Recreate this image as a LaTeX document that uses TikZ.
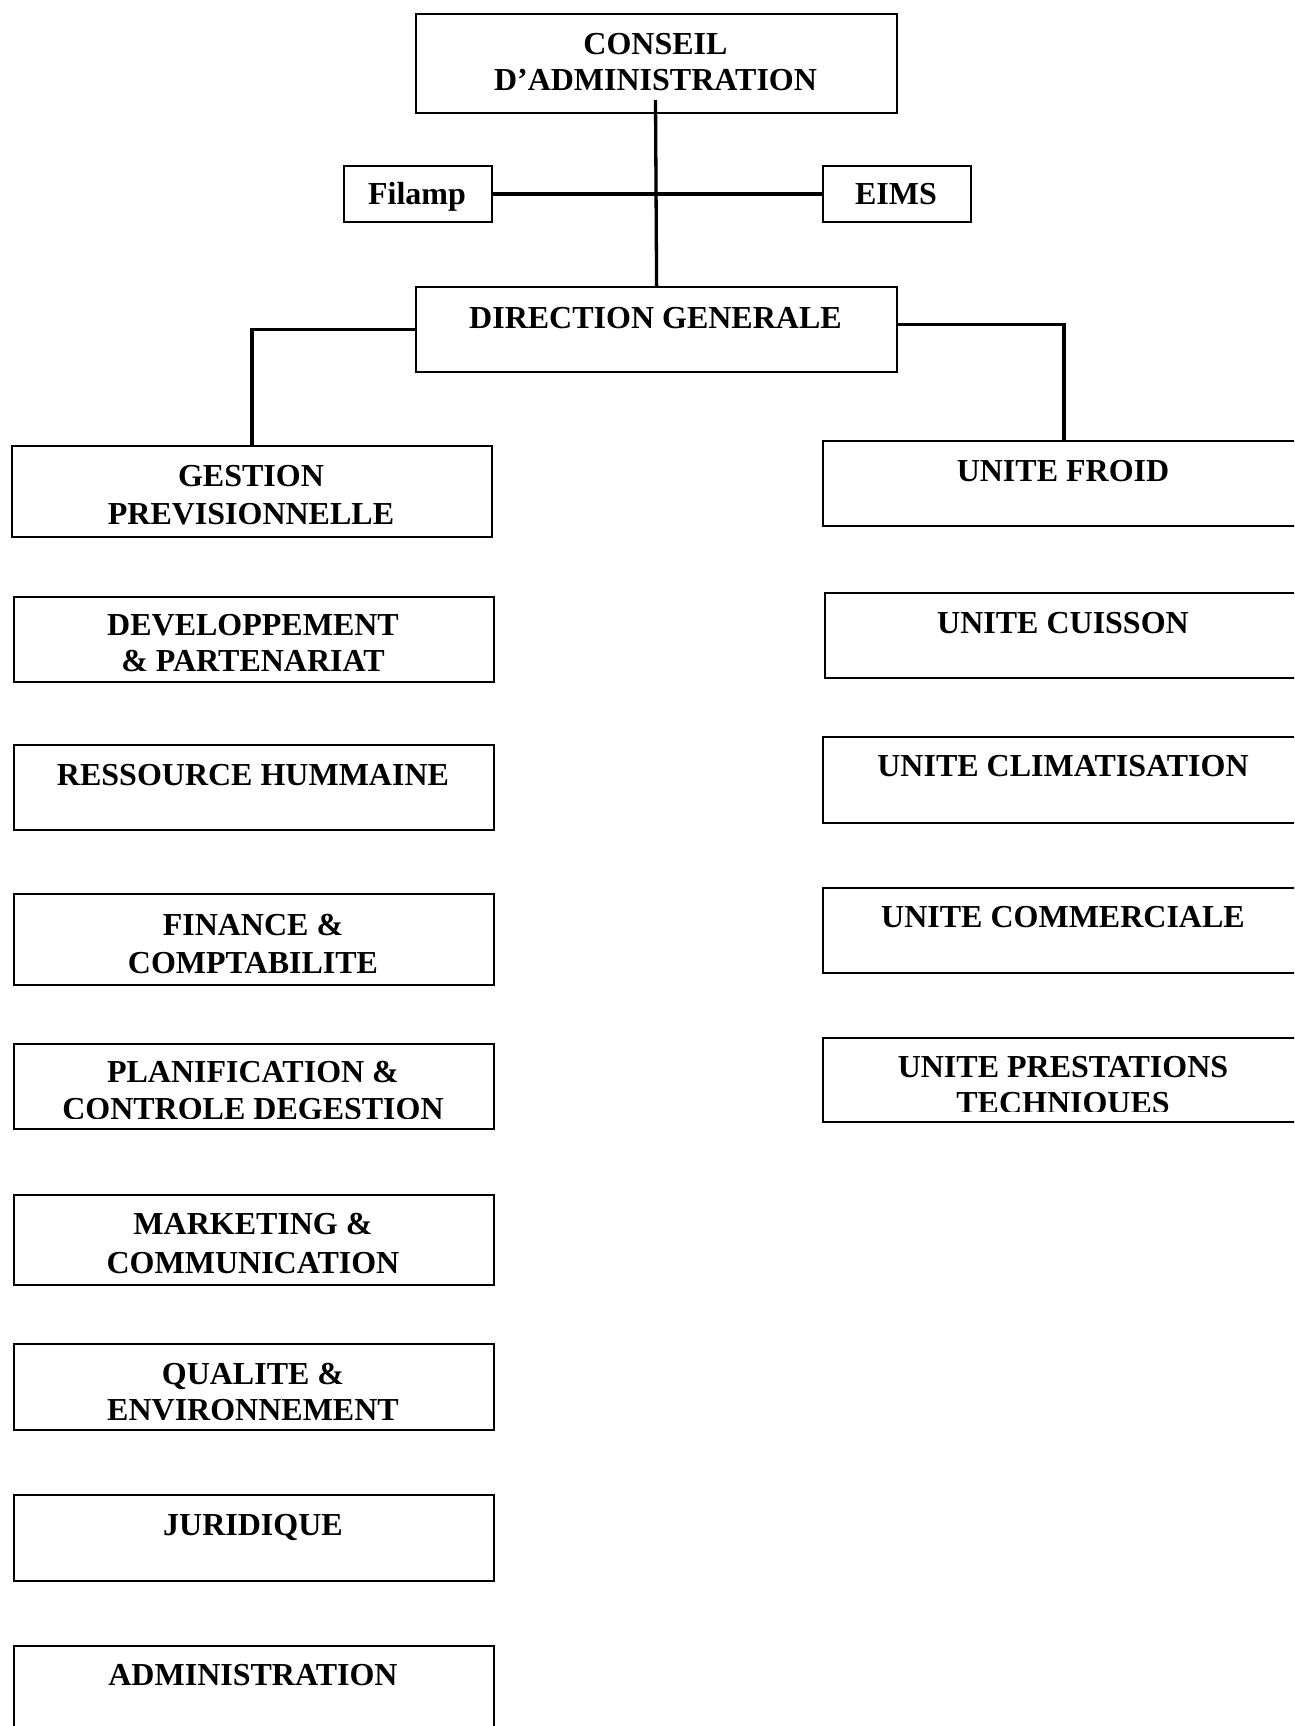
\documentclass[tikz,border=0pt]{standalone}
\usepackage{fontspec}
\setmainfont{Liberation Serif}
% two-line label whose baseline is the baseline of its first line
\newcommand\orgtwo[3]{\fontsize{32}{#1}\selectfont\begin{tabular}[t]{@{}c@{}}#2\\#3\end{tabular}}
% label of a box, clipped to the inner area of that box (optional: bottom inset)
\newcommand\orgtext[5][9]{%
  \begin{scope}
    \clip (#2.north west) rectangle ([yshift=#1pt]#2.south east);
    \node[lbl] (#2-t) at (#3,#4) {#5};
  \end{scope}}
\begin{document}
\begin{tikzpicture}[x=1pt,y=-1pt,
  box/.style={draw, line width=2.2pt, rectangle, inner sep=0pt, anchor=north west},
  lbl/.style={anchor=base, inner sep=0pt, font=\fontsize{32}{38}\selectfont\bfseries},
  conn/.style={line width=3.3pt, line join=miter}]
\useasboundingbox (0,0) rectangle (1294,1726);
\clip (0,0) rectangle (1294,1726);

% top of the chart
\node[box, minimum width=481pt, minimum height=99pt] (conseil) at (415,13) {};
\node[box, minimum width=148pt, minimum height=56pt] (filamp) at (343,165) {};
\node[box, minimum width=148pt, minimum height=56pt] (eims) at (822,165) {};
\node[box, minimum width=481pt, minimum height=85pt] (dg) at (415,286) {};

% left column
\node[box, minimum width=480pt, minimum height=91pt] (gp) at (11,445) {};
\node[box, minimum width=480pt, minimum height=85pt] (dev) at (13,596) {};
\node[box, minimum width=480pt, minimum height=85pt] (rh) at (13,744) {};
\node[box, minimum width=480pt, minimum height=91pt] (fin) at (13,893) {};
\node[box, minimum width=480pt, minimum height=85pt] (plan) at (13,1043) {};
\node[box, minimum width=480pt, minimum height=90pt] (mark) at (13,1194) {};
\node[box, minimum width=480pt, minimum height=86pt] (qual) at (13,1343) {};
\node[box, minimum width=480pt, minimum height=86pt] (jur) at (13,1494) {};
\node[box, minimum width=480pt, minimum height=86pt] (adm) at (13,1645) {};

% right column
\node[box, minimum width=482pt, minimum height=85pt] (froid) at (822,440) {};
\node[box, minimum width=480pt, minimum height=85pt] (cuis) at (824,592) {};
\node[box, minimum width=482pt, minimum height=86pt] (clim) at (822,736) {};
\node[box, minimum width=482pt, minimum height=85pt] (comm) at (822,887) {};
\node[box, minimum width=482pt, minimum height=84pt] (prest) at (822,1037) {};

% labels
\orgtext{conseil}{655.5}{55}{\orgtwo{36}{CONSEIL}{D’ADMINISTRATION}}
\orgtext{filamp}{417}{204}{Filamp}
\orgtext{eims}{896}{204}{EIMS}
\orgtext{dg}{655.5}{328}{DIRECTION GENERALE}

\orgtext{gp}{251}{486}{\orgtwo{38.5}{GESTION}{PREVISIONNELLE}}
\orgtext[11.5]{dev}{253}{635.5}{\orgtwo{36}{DEVELOPPEMENT}{\& PARTENARIAT}}
\orgtext{rh}{253}{785}{RESSOURCE HUMMAINE}
\orgtext{fin}{253}{935}{\orgtwo{38.5}{FINANCE \&}{COMPTABILITE}}
\orgtext[12]{plan}{253}{1082}{\orgtwo{37}{PLANIFICATION \&}{CONTROLE DEGESTION}}
\orgtext{mark}{253}{1234}{\orgtwo{39.5}{MARKETING \&}{COMMUNICATION}}
\orgtext[12]{qual}{253}{1384}{\orgtwo{36}{QUALITE \&}{ENVIRONNEMENT}}
\orgtext{jur}{253}{1535.5}{JURIDIQUE}
\orgtext{adm}{253}{1685}{ADMINISTRATION}

\orgtext{froid}{1063}{481.5}{UNITE FROID}
\orgtext{cuis}{1063}{633}{UNITE CUISSON}
\orgtext{clim}{1063}{776}{UNITE CLIMATISATION}
\orgtext{comm}{1063}{927}{UNITE COMMERCIALE}
\orgtext[12]{prest}{1063}{1077}{\orgtwo{36}{UNITE PRESTATIONS}{TECHNIQUES}}

% connectors
\coordinate (ctop) at (655.5,100);
\draw[conn] (ctop) -- (dg.north);
\draw[conn] (filamp.east) -- (eims.west);
\draw[conn] (dg.west) -| (gp.north);
\draw[conn] ([yshift=5pt]dg.east) -| (froid.north);
\end{tikzpicture}
\end{document}
